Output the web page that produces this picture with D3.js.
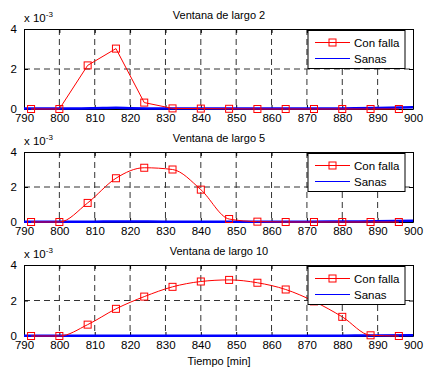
<!DOCTYPE html>
<html>
<head>
<meta charset="utf-8">
<script src="https://cdn.jsdelivr.net/npm/d3@7"></script>
<style>
  body { margin: 0; background: #fff; }
  text { font-family: "Liberation Sans", Arial, sans-serif; fill: #000; }
</style>
</head>
<body>
<div id="chart"></div>
<script>
// time axis (minutes)
var tiempo = [792, 800, 808, 816, 824, 832, 840, 848, 856, 864, 872, 880, 888, 896]
// "Con falla" values, x 10^-3
var falla2 = [0, 0, 2.18, 3.02, 0.32, 0.03, 0.02, 0.01, 0, 0, 0, 0, 0, 0]
var falla5 = [0, 0, 1.09, 2.5, 3.1, 3.0, 1.85, 0.17, 0.02, 0, 0, 0, 0, 0]
var falla10 = [0, 0, 0.64, 1.53, 2.22, 2.77, 3.07, 3.16, 3.0, 2.62, 1.95, 1.08, 0.04, 0]
// "Sanas" values, x 10^-3
var tiempoSanas = [790, 800, 810, 816, 820, 830, 840, 850, 860, 870, 880, 890, 900]
var sanas2 = [0.02, 0.02, 0.04, 0.06, 0.04, 0.02, 0.02, 0.02, 0.02, 0.02, 0.03, 0.05, 0.09]
var sanas5 = [0.02, 0.02, 0.02, 0.03, 0.03, 0.02, 0.02, 0.02, 0.02, 0.02, 0.03, 0.04, 0.07]
var sanas10 = [0.02, 0.02, 0.02, 0.02, 0.02, 0.02, 0.02, 0.02, 0.02, 0.02, 0.02, 0.03, 0.04]
var titulos = ['Ventana de largo 2', 'Ventana de largo 5', 'Ventana de largo 10']
var xTicks = [790, 800, 810, 820, 830, 840, 850, 860, 870, 880, 890, 900]
var yTicks = [0, 2, 4]

var panels = [
    {title: titulos[0], falla: falla2, sanas: sanas2, top: 29, bottom: 109, curve: d3.curveLinear},
    {title: titulos[1], falla: falla5, sanas: sanas5, top: 152, bottom: 222, curve: d3.curveMonotoneX},
    {title: titulos[2], falla: falla10, sanas: sanas10, top: 265, bottom: 336, curve: d3.curveMonotoneX}
]

var svg = d3.select('#chart')
    .append('svg')
    .attr('width', 427)
    .attr('height', 371)

var x = d3.scaleLinear().domain([790, 900]).range([24, 413])

panels.forEach(p => {
    var y = d3.scaleLinear().domain([0, 4]).range([p.bottom, p.top])
    var g = svg.append('g')

    // grid
    g.append('g')
        .selectAll('line')
        .data(xTicks.slice(1, -1))
        .enter().append('line')
        .attr('x1', d => x(d)).attr('x2', d => x(d))
        .attr('y1', p.top).attr('y2', p.bottom)
        .attr('stroke', '#333').attr('stroke-dasharray', '6,4')
    g.append('line')
        .attr('x1', x(790)).attr('x2', x(900))
        .attr('y1', y(2)).attr('y2', y(2))
        .attr('stroke', '#333').attr('stroke-dasharray', '6,4')

    // axes with inward ticks
    g.append('g')
        .attr('transform', `translate(0, ${p.bottom})`)
        .call(d3.axisBottom(x).tickValues(xTicks).tickSizeInner(-4).tickSizeOuter(0).tickPadding(5))
    g.append('g')
        .attr('transform', `translate(0, ${p.top})`)
        .call(d3.axisTop(x).tickValues(xTicks).tickSizeInner(-4).tickSizeOuter(0).tickFormat(''))
    g.append('g')
        .attr('transform', `translate(${x(790)}, 0)`)
        .call(d3.axisLeft(y).tickValues(yTicks).tickFormat(d3.format('d')).tickSizeInner(-4).tickSizeOuter(0).tickPadding(7))
    g.append('g')
        .attr('transform', `translate(${x(900)}, 0)`)
        .call(d3.axisRight(y).tickValues(yTicks).tickSizeInner(-4).tickSizeOuter(0).tickFormat(''))
    g.selectAll('.domain').attr('stroke', '#000')
    g.selectAll('.tick line').attr('stroke', '#000')
    g.selectAll('.tick text').attr('font-size', 11.5).attr('font-family', '"Liberation Sans", Arial, sans-serif')

    // sanas
    var sanasData = tiempoSanas.map((t, i) => [t, p.sanas[i]])
    g.append('path')
        .datum(sanasData)
        .attr('fill', 'none')
        .attr('stroke', '#0000ff')
        .attr('stroke-width', 2.5)
        .attr('d', d3.line().x(d => x(d[0])).y(d => y(d[1])).curve(d3.curveMonotoneX))

    // con falla
    var fallaData = tiempo.map((t, i) => [t, p.falla[i]])
    g.append('path')
        .datum(fallaData)
        .attr('fill', 'none')
        .attr('stroke', '#ff0000')
        .attr('stroke-width', 1)
        .attr('d', d3.line().x(d => x(d[0])).y(d => y(d[1])).curve(p.curve))
    g.append('g')
        .selectAll('rect')
        .data(fallaData)
        .enter().append('rect')
        .attr('x', d => x(d[0]) - 3.5)
        .attr('y', d => y(d[1]) - 3.5)
        .attr('width', 7)
        .attr('height', 7)
        .attr('fill', 'none')
        .attr('stroke', '#ff0000')

    // title and exponent
    g.append('text')
        .attr('x', 219)
        .attr('y', p.top - 10)
        .attr('text-anchor', 'middle')
        .attr('font-size', 11)
        .text(p.title)
    var expo = g.append('text')
        .attr('x', 24)
        .attr('y', p.top - 7)
        .attr('font-size', 11.5)
    expo.append('tspan').text('x 10')
    expo.append('tspan').attr('dy', -5).attr('font-size', 8).text('-3')

    // legend
    var lg = g.append('g').attr('transform', `translate(308, ${p.top + 1.5})`)
    lg.append('rect')
        .attr('width', 97).attr('height', 38)
        .attr('fill', '#fff').attr('stroke', '#000')
    lg.append('line')
        .attr('x1', 7).attr('x2', 42).attr('y1', 12).attr('y2', 12)
        .attr('stroke', '#ff0000')
    lg.append('rect')
        .attr('x', 21).attr('y', 8.5).attr('width', 7).attr('height', 7)
        .attr('fill', 'none').attr('stroke', '#ff0000')
    lg.append('text')
        .attr('x', 46).attr('y', 12).attr('dy', '0.35em')
        .attr('font-size', 11.5).text('Con falla')
    lg.append('line')
        .attr('x1', 7).attr('x2', 42).attr('y1', 28).attr('y2', 28)
        .attr('stroke', '#0000ff')
    lg.append('text')
        .attr('x', 46).attr('y', 28).attr('dy', '0.35em')
        .attr('font-size', 11.5).text('Sanas')
})

svg.append('text')
    .attr('x', 219)
    .attr('y', 365)
    .attr('text-anchor', 'middle')
    .attr('font-size', 11)
    .text('Tiempo [min]')
</script>
</body>
</html>
